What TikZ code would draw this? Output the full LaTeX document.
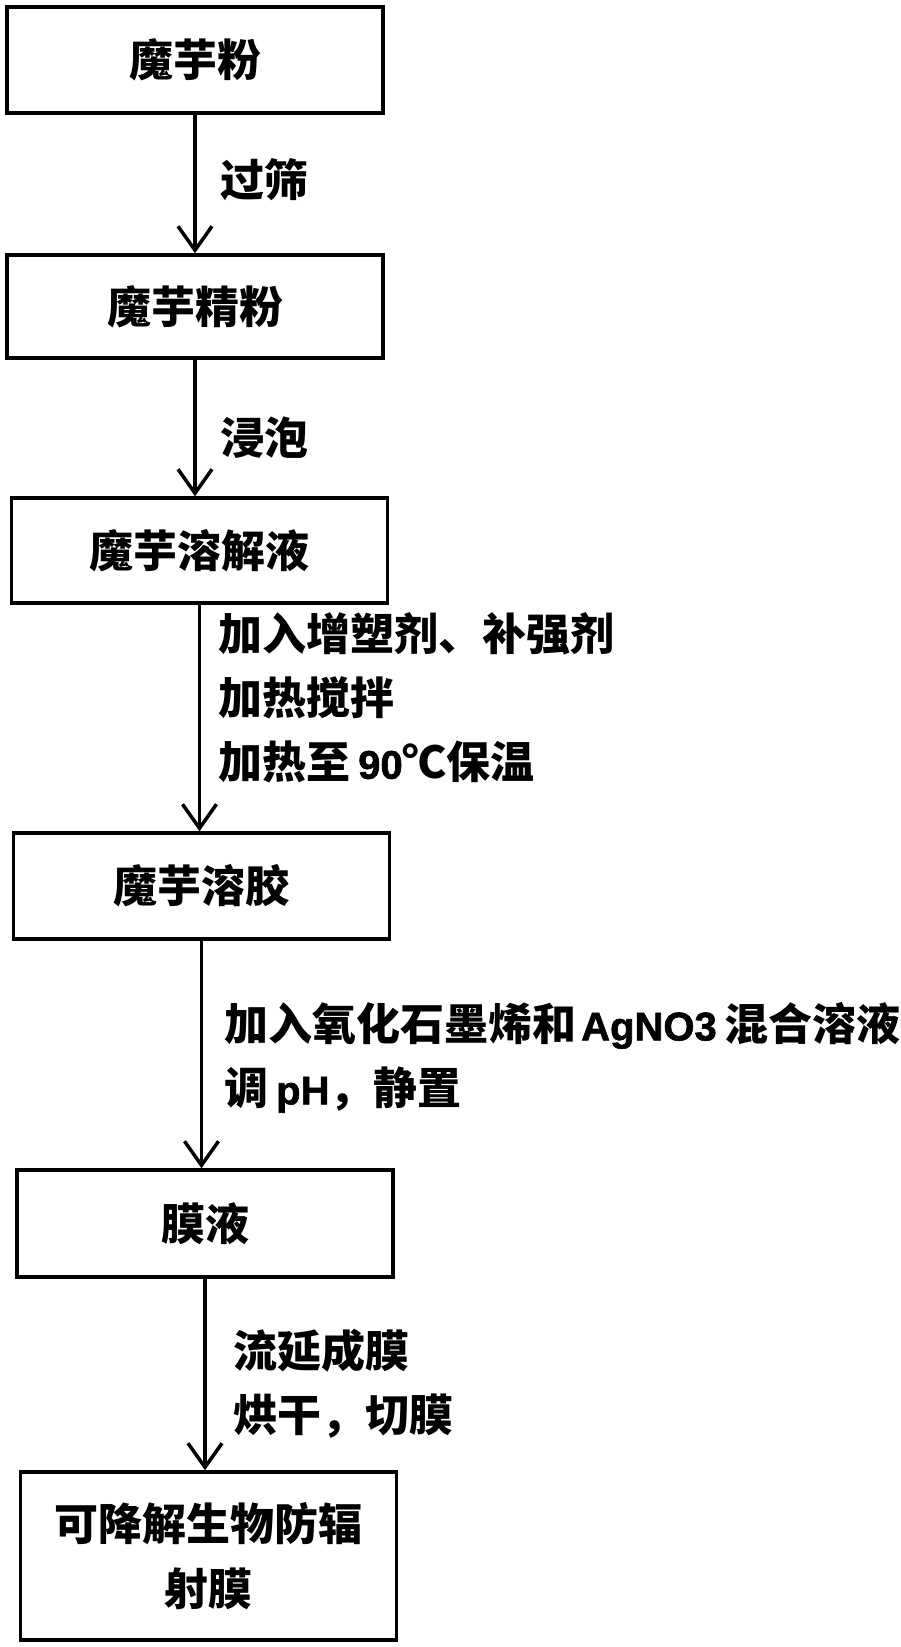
\documentclass[tikz,border=0pt]{standalone}
\usepackage{fontspec}
\setmainfont{Noto Sans CJK SC}
\newfontfamily\latf{Liberation Sans Bold}[FakeBold=1.5]
\newcommand{\lat}[1]{{\latf\fontsize{40}{64}\selectfont #1}}
\usetikzlibrary{arrows.meta}
\begin{document}
\begin{tikzpicture}[x=1pt,y=-1pt,
  box/.style={draw,line width=3.5pt,minimum width=376pt,inner sep=0pt,align=center,
    font=\bfseries\fontsize{44}{65}\selectfont},
  lbl/.style={anchor=west,inner sep=0pt,align=left,
    font=\bfseries\fontsize{44}{64}\selectfont},
  arr/.style={line width=3.5pt,-{Straight Barb[length=24pt,width=34pt,line width=3.5pt]}}]
\useasboundingbox (0,0) rectangle (900,1647);
\node[box,minimum height=106pt] (b1) at (195,60) {魔芋粉};
\node[box,minimum height=103pt] (b2) at (195,306.5) {魔芋精粉};
\node[box,minimum height=105pt] (b3) at (199.5,550.5) {魔芋溶解液};
\node[box,minimum height=106pt] (b4) at (201.5,886) {魔芋溶胶};
\node[box,minimum height=107pt] (b5) at (205,1223.5) {膜液};
\node[box,minimum height=168pt] (b6) at (208.5,1556) {可降解生物防辐\\射膜};
\draw[arr] (b1.south) -- (b1.south |- b2.north);
\draw[arr] (b2.south) -- (b2.south |- b3.north);
\draw[arr] (b3.south) -- (b3.south |- b4.north);
\draw[arr] (b4.south) -- (b4.south |- b5.north);
\draw[arr] (b5.south) -- (b5.south |- b6.north);
\node[lbl] (l1) at (220,180) {过筛};
\node[lbl] (l2) at (220,438) {浸泡};
\node[lbl] (l3) at (218,698) {加入增塑剂、补强剂\\加热搅拌\\加热至\hspace{8pt}\lat{90}℃保温};
\node[lbl] (l4) at (224,1057.5) {加入氧化石墨烯和\hspace{5pt}\lat{AgNO3}\hspace{8pt}混合溶液\\调\hspace{8pt}\lat{pH}，静置};
\node[lbl] (l5) at (233,1383.5) {流延成膜\\烘干，切膜};
\end{tikzpicture}
\end{document}
